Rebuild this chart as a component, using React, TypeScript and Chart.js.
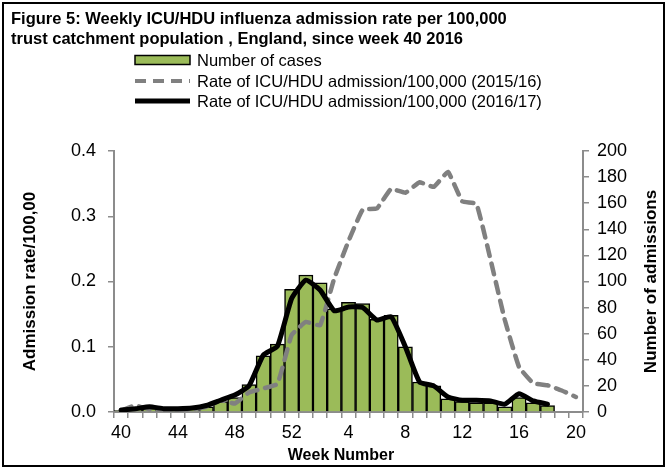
import React, { useEffect, useRef } from "react";
import { Chart, registerables } from "chart.js";

Chart.register(...registerables);

const FONT = "'Liberation Sans', Arial, Helvetica, sans-serif";

const weeks = [
  "40", "41", "42", "43", "44", "45", "46", "47", "48", "49", "50", "51", "52",
  "1", "2", "3", "4", "5", "6", "7", "8", "9", "10", "11", "12", "13", "14",
  "15", "16", "17", "18", "19", "20",
];

const cases = [
  1, 2, 3, 2, 2, 3, 4, 8, 11, 21, 43, 52, 94,
  105, 99, 79, 84, 83, 71, 74, 50, 23, 20, 10, 8, 7, 7,
  4, 11, 7, 5, null, null,
];

const rate1516 = [
  0.002, 0.010, 0.004, 0.003, 0.003, 0.004, 0.008, 0.018, 0.013, 0.030, 0.036, 0.043, 0.118,
  0.138, 0.133, 0.205, 0.262, 0.310, 0.312, 0.342, 0.336, 0.352, 0.345, 0.368, 0.323, 0.319, 0.233,
  0.141, 0.069, 0.044, 0.041, 0.033, 0.023,
];

const rate1617 = [
  0.003, 0.005, 0.008, 0.005, 0.005, 0.006, 0.010, 0.018, 0.026, 0.040, 0.087, 0.101, 0.174,
  0.202, 0.187, 0.155, 0.161, 0.160, 0.141, 0.146, 0.100, 0.046, 0.040, 0.023, 0.018, 0.018, 0.017,
  0.012, 0.028, 0.017, 0.012, null, null,
];

const titleLines = [
  "Figure 5: Weekly ICU/HDU influenza admission rate per 100,000",
  "trust catchment population , England, since week 40 2016",
];

const seriesLabels = [
  "Number of cases",
  "Rate of ICU/HDU admission/100,000 (2015/16)",
  "Rate of ICU/HDU admission/100,000 (2016/17)",
];

const leftAxis = { min: 0, max: 0.4, step: 0.1, title: "Admission rate/100,00" };
const rightAxis = { min: 0, max: 200, step: 20, title: "Number of admissions" };
const xAxisTitle = "Week Number";

const GREEN = "#9BBB59";
const GREY = "#808080";

const decorPlugin = {
  id: "decor",
  afterDraw(chart: any) {
    const { ctx, chartArea } = chart;
    const midY = (chartArea.top + chartArea.bottom) / 2;
    ctx.save();
    // frame
    ctx.strokeStyle = "#000";
    ctx.lineWidth = 2;
    ctx.strokeRect(3, 3, 661, 463);

    // title
    ctx.fillStyle = "#000";
    ctx.font = `bold 16.5px ${FONT}`;
    ctx.textBaseline = "middle";
    ctx.textAlign = "left";
    ctx.fillText(titleLines[0], 11, 19);
    ctx.fillText(titleLines[1], 11, 39);

    // legend
    const lx0 = 135;
    const lx1 = 190;
    const tx = 197;
    const rows = [60, 81, 101];
    ctx.font = `16.5px ${FONT}`;
    ctx.fillStyle = GREEN;
    ctx.fillRect(lx0, rows[0] - 4.5, lx1 - lx0, 9);
    ctx.strokeStyle = "#000";
    ctx.lineWidth = 1.5;
    ctx.strokeRect(lx0, rows[0] - 4.5, lx1 - lx0, 9);
    ctx.beginPath();
    ctx.setLineDash([11, 7]);
    ctx.strokeStyle = GREY;
    ctx.lineWidth = 4;
    ctx.moveTo(lx0, rows[1]);
    ctx.lineTo(lx1, rows[1]);
    ctx.stroke();
    ctx.setLineDash([]);
    ctx.beginPath();
    ctx.strokeStyle = "#000";
    ctx.lineWidth = 5;
    ctx.moveTo(lx0, rows[2]);
    ctx.lineTo(lx1, rows[2]);
    ctx.stroke();
    ctx.fillStyle = "#000";
    seriesLabels.forEach((t, i) => ctx.fillText(t, tx, rows[i] + 1));

    // x axis title
    ctx.font = `bold 16px ${FONT}`;
    ctx.textAlign = "center";
    ctx.fillText(xAxisTitle, 341, 456);

    // left axis title
    ctx.save();
    ctx.font = `bold 17px ${FONT}`;
    ctx.translate(30, midY);
    ctx.rotate(-Math.PI / 2);
    ctx.fillText(leftAxis.title, 0, 0);
    ctx.restore();

    // right axis title (reads bottom to top)
    ctx.font = `bold 17px ${FONT}`;
    ctx.translate(651, midY);
    ctx.rotate(-Math.PI / 2);
    ctx.textAlign = "center";
    ctx.fillText(rightAxis.title, 0, 0);
    ctx.restore();
  },
};

export default function App() {
  const ref = useRef<HTMLCanvasElement | null>(null);

  useEffect(() => {
    document.body.style.margin = "0";
    const canvas = ref.current;
    if (!canvas) return;
    const tickFont = { family: FONT, size: 18 };
    const chart = new Chart(canvas, {
      type: "bar",
      data: {
        labels: weeks,
        datasets: [
          {
            type: "line",
            label: seriesLabels[2],
            data: rate1617,
            yAxisID: "y",
            borderColor: "#000",
            borderWidth: 5,
            pointRadius: 0,
            tension: 0.15,
            borderJoinStyle: "round",
            borderCapStyle: "round",
            order: 1,
          } as any,
          {
            type: "line",
            label: seriesLabels[1],
            data: rate1516,
            yAxisID: "y",
            borderColor: GREY,
            borderWidth: 4.5,
            borderDash: [11, 8],
            borderCapStyle: "round",
            pointRadius: 0,
            tension: 0.1,
            order: 2,
          } as any,
          {
            type: "bar",
            label: seriesLabels[0],
            data: cases,
            yAxisID: "y1",
            backgroundColor: GREEN,
            borderColor: "#000",
            borderWidth: 1.5,
            barPercentage: 1,
            categoryPercentage: 1,
            order: 3,
          } as any,
        ],
      },
      options: {
        responsive: false,
        animation: false,
        layout: { padding: { top: 151, left: 0, right: 0, bottom: 0 } },
        plugins: {
          legend: { display: false },
          title: { display: false },
          tooltip: { enabled: false },
        },
        scales: {
          x: {
            type: "category",
            offset: true,
            grid: {
              offset: true,
              drawOnChartArea: false,
              drawTicks: true,
              tickLength: 6,
              color: "#8c8c8c",
              lineWidth: 1.5,
            },
            border: { display: true, color: "#8c8c8c", width: 2 },
            ticks: {
              autoSkip: false,
              maxRotation: 0,
              minRotation: 0,
              color: "#000",
              font: tickFont,
              padding: 4,
              callback: (_v: any, i: number) => (i % 4 === 0 ? weeks[i] : ""),
            },
            afterFit: (s: any) => {
              s.height = 58;
            },
          },
          y: {
            position: "left",
            min: leftAxis.min,
            max: leftAxis.max,
            grid: {
              drawOnChartArea: false,
              drawTicks: true,
              tickLength: 6,
              color: "#8c8c8c",
              lineWidth: 1.5,
            },
            border: { display: true, color: "#8c8c8c", width: 2 },
            ticks: {
              stepSize: leftAxis.step,
              color: "#000",
              font: tickFont,
              padding: 12,
              callback: (v: any) => Number(v).toFixed(1),
            },
            afterFit: (s: any) => {
              s.width = 114;
            },
          },
          y1: {
            position: "right",
            min: rightAxis.min,
            max: rightAxis.max,
            grid: {
              drawOnChartArea: false,
              drawTicks: true,
              tickLength: 6,
              color: "#8c8c8c",
              lineWidth: 1.5,
            },
            border: { display: true, color: "#8c8c8c", width: 2 },
            ticks: {
              stepSize: rightAxis.step,
              color: "#000",
              font: tickFont,
              padding: 8,
            },
            afterFit: (s: any) => {
              s.width = 84;
            },
          },
        },
      },
      plugins: [decorPlugin],
    });
    return () => chart.destroy();
  }, []);

  return <canvas ref={ref} width={667} height={470} style={{ display: "block" }} />;
}
